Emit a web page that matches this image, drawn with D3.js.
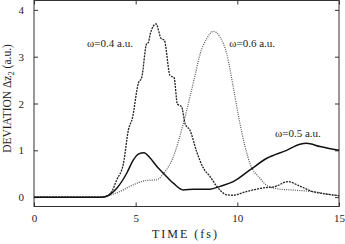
<!DOCTYPE html>
<html>
<head>
<meta charset="utf-8">
<script src="https://cdn.jsdelivr.net/npm/d3@7"></script>
<style>
  body { margin: 0; background: #fff; }
  svg text { font-family: "Liberation Serif", "DejaVu Serif", serif; fill: #222; }
</style>
</head>
<body>
<div id="chart"></div>
<script>
// data: [time (fs), deviation (a.u.)]
const w04 = [[0,0],[3.3,0],[3.6,0.03],[3.8,0.1],[4.07,0.37],[4.4,0.72],[4.64,1.43],[4.84,1.69],
  [5.13,2.43],[5.3,2.56],[5.54,3.28],[5.62,3.3],[5.72,3.49],[6.0,3.7],[6.25,3.39],[6.41,3.35],
  [6.69,2.6],[6.89,2.55],[7.05,1.99],[7.26,1.93],[7.43,1.57],[7.67,1.43],[8.0,0.97],[8.33,0.62],
  [8.66,0.44],[8.99,0.23],[9.48,0.05],[9.8,0.04],[10.3,0.1],[10.8,0.155],[11.3,0.2],[11.8,0.22],
  [12.5,0.33],[13.0,0.25],[13.7,0.12],[14.3,0.07],[15,0.03]];

const w06 = [[0,0],[3.4,0],[3.66,0.03],[4.23,0.12],[4.72,0.23],[5.2,0.32],[5.6,0.36],[6.03,0.37],
  [6.36,0.5],[6.85,0.86],[7.34,1.57],[7.67,2.14],[7.92,2.6],[8.17,3.06],[8.49,3.38],[8.82,3.54],
  [9.15,3.42],[9.48,3.06],[9.8,2.35],[10.05,1.75],[10.38,1.08],[10.62,0.72],[11.12,0.4],[11.45,0.25],
  [12.1,0.17],[12.6,0.155],[13.1,0.14],[14.0,0.1],[14.5,0.06],[15,0.03]];

const w05 = [[0,0],[3.3,0],[3.5,0.01],[4.07,0.19],[4.56,0.51],[4.88,0.79],[5.13,0.92],[5.41,0.95],
  [5.7,0.84],[6.11,0.62],[6.36,0.51],[6.85,0.3],[7.34,0.155],[7.84,0.17],[8.66,0.17],[9.15,0.23],
  [9.8,0.33],[10.62,0.58],[11.45,0.83],[12.42,1.0],[13.08,1.13],[13.4,1.15],[14.07,1.08],[15,1.0]];

const xTicks = [0, 5, 10, 15];
const yTicks = [0, 1, 2, 3, 4];

// labels: text and anchor point in data coords
const labels = [
  {text: "\u03c9=0.4 a.u.", t: 2.61, v: 3.2},
  {text: "\u03c9=0.6 a.u.", t: 9.6, v: 3.2},
  {text: "\u03c9=0.5 a.u.", t: 11.85, v: 1.28}
];

const W = 345, H = 244;
const margin = {top: 0.5, right: 6, bottom: 37.5, left: 34};
const width = W - margin.left - margin.right,
      height = H - margin.top - margin.bottom;

const svg = d3.select("#chart").append("svg")
    .attr("width", W)
    .attr("height", H)
  .append("g")
    .attr("transform", "translate(" + margin.left + "," + margin.top + ")");

let x = d3.scaleLinear().domain([0, 15]).range([0, width]);
let y = d3.scaleLinear().domain([-0.2, 4.2]).range([height, 0]);

// frame
svg.append("rect")
  .attr("width", width).attr("height", height)
  .attr("fill", "none").attr("stroke", "#333").attr("stroke-width", 1);

// inward ticks on all four sides
const tk = 4;
svg.append("g")
  .attr("transform", "translate(0," + height + ")")
  .call(d3.axisBottom(x).tickValues(xTicks).tickSizeInner(-tk).tickSizeOuter(0).tickPadding(8))
  .call(g => g.select(".domain").remove())
  .call(g => g.selectAll("text").attr("font-size", 11).style("font-family", "Liberation Serif"));
svg.append("g")
  .call(d3.axisTop(x).tickValues(xTicks).tickSizeInner(-tk).tickSizeOuter(0).tickFormat(""))
  .call(g => g.select(".domain").remove());
svg.append("g")
  .call(d3.axisLeft(y).tickValues(yTicks).tickFormat(d3.format("d")).tickSizeInner(-tk).tickSizeOuter(0).tickPadding(10))
  .call(g => g.select(".domain").remove())
  .call(g => g.selectAll("text").attr("font-size", 11).style("font-family", "Liberation Serif"));
svg.append("g")
  .attr("transform", "translate(" + width + ",0)")
  .call(d3.axisRight(y).tickValues(yTicks).tickSizeInner(-tk).tickSizeOuter(0).tickFormat(""))
  .call(g => g.select(".domain").remove());
svg.selectAll(".tick line").attr("stroke", "#333");

const line = d3.line()
  .x(d => x(d[0]))
  .y(d => y(d[1]))
  .curve(d3.curveMonotoneX);

// the three curves
svg.append("path").datum(w06)
  .attr("d", line).attr("fill", "none")
  .attr("stroke", "#555").attr("stroke-width", 1.2).attr("stroke-dasharray", "1,1.2");
svg.append("path").datum(w04)
  .attr("d", line).attr("fill", "none")
  .attr("stroke", "#222").attr("stroke-width", 1.3).attr("stroke-dasharray", "2,1");
svg.append("path").datum(w05)
  .attr("d", line).attr("fill", "none")
  .attr("stroke", "#111").attr("stroke-width", 1.5);

// curve labels
svg.append("g").selectAll("text")
  .data(labels).enter()
  .append("text")
  .attr("x", d => x(d.t))
  .attr("y", d => y(d.v))
  .attr("font-size", 11)
  .text(d => d.text);

// axis titles
svg.append("text")
  .attr("x", width / 2 - 1)
  .attr("y", height + 31)
  .attr("text-anchor", "middle")
  .attr("font-size", 12)
  .attr("letter-spacing", "2px")
  .text("TIME (fs)");

const yt = svg.append("text")
  .attr("transform", "translate(" + (-23) + "," + (height / 2 - 5) + ") rotate(-90)")
  .attr("text-anchor", "middle")
  .attr("font-size", 11.5);
yt.append("tspan").text("DEVIATION \u0394z");
yt.append("tspan").attr("font-size", 8.5).attr("dy", 3).text("2");
yt.append("tspan").attr("dy", -3).text(" (a.u.)");
</script>
</body>
</html>
